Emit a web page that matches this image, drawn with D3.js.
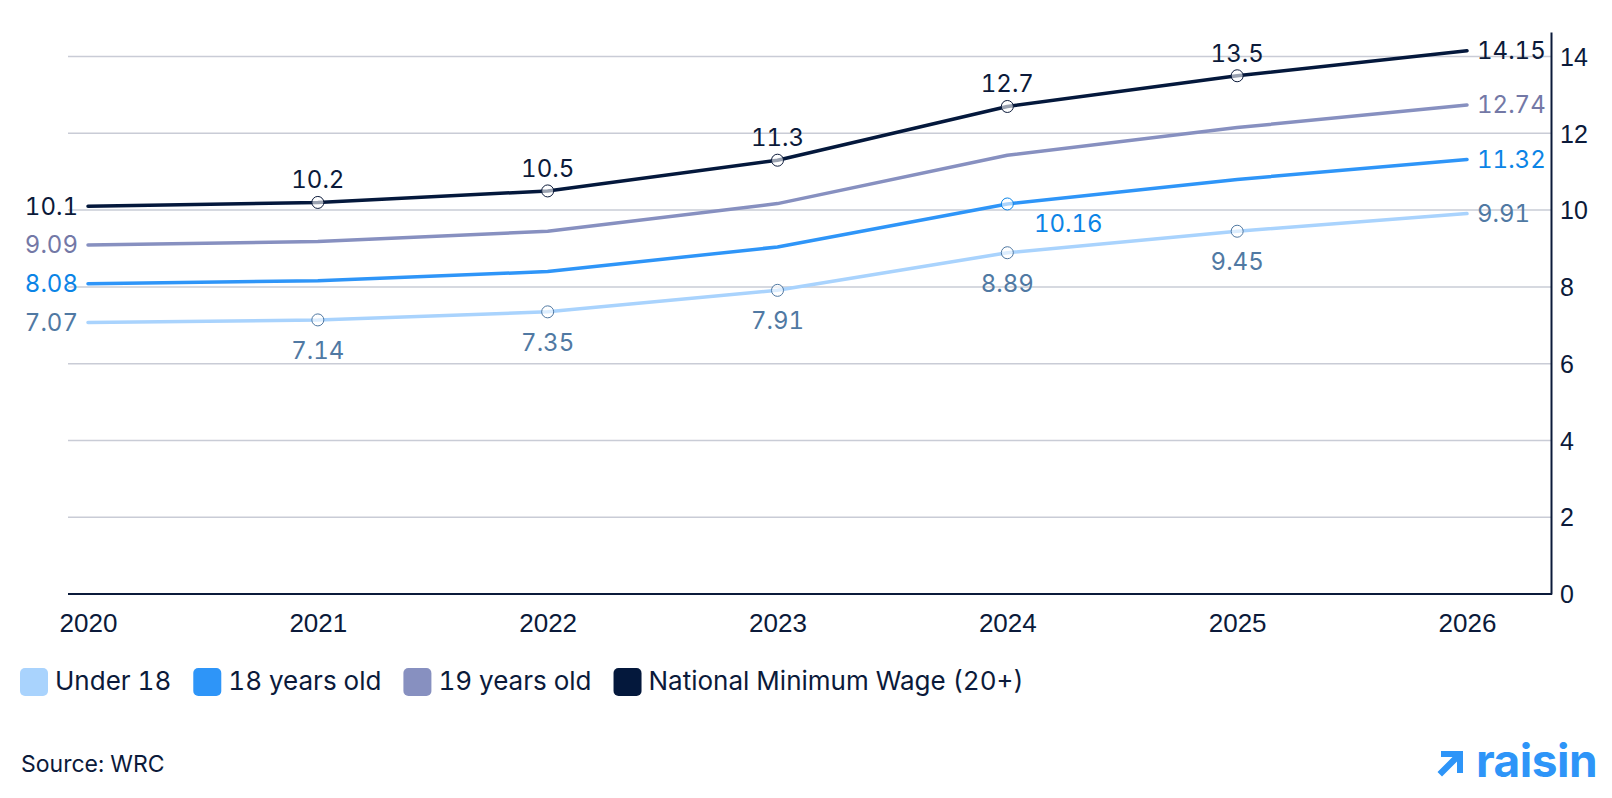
<!DOCTYPE html>
<html>
<head>
<meta charset="utf-8">
<script src="https://cdn.jsdelivr.net/npm/d3@7"></script>
<style>
  html, body { margin: 0; padding: 0; background: #fff; }
  svg { display: block; font-family: Inter, "Noto Sans", sans-serif; font-variant-numeric: tabular-nums; }
</style>
</head>
<body>
<svg id="chart" width="1612" height="798"></svg>
<script>
// data (EUR per hour)
const years = ['2020', '2021', '2022', '2023', '2024', '2025', '2026'];
const under18 = [7.07, 7.14, 7.35, 7.91, 8.89, 9.45, 9.91];
const age18 = [8.08, 8.16, 8.40, 9.04, 10.16, 10.80, 11.32];
const age19 = [9.09, 9.18, 9.45, 10.17, 11.43, 12.15, 12.74];
const nmw = [10.1, 10.2, 10.5, 11.3, 12.7, 13.5, 14.15];
const yTicks = [0, 2, 4, 6, 8, 10, 12, 14];
const seriesNames = ['Under 18', '18 years old', '19 years old', 'National Minimum Wage (20+)'];

// where each point's value label goes (null = no label)
const labelSpots = [
    ['left', 'below', 'below', 'below', 'below', 'below', 'right'],
    ['left', null, null, null, 'belowright', null, 'right'],
    ['left', null, null, null, null, null, 'right'],
    ['left', 'above', 'above', 'above', 'above', 'above', 'right']
];

const lineColors = ['#a9d3fd', '#2e95f8', '#8790c0', '#04183c'];
const textColors = ['#5079a3', '#0b84e6', '#7378a6', '#0b1a3a'];
const dark = '#0b1a3a';

const svg = d3.select('#chart');
const plotLeft = 68, plotRight = 1551, plotTop = 32, plotBottom = 594;

const x = d3.scalePoint().domain(years).range([88, 1467]);
const y = d3.scaleLinear().domain([0, 14.64]).range([plotBottom, plotTop]);

// gridlines
svg.append('g')
    .selectAll('line')
    .data(yTicks.filter(d => d > 0))
    .enter()
    .append('line')
    .attr('x1', plotLeft).attr('x2', plotRight)
    .attr('y1', d => y(d)).attr('y2', d => y(d))
    .attr('stroke', '#c9ccd6')
    .attr('stroke-width', 1.5);

// right value axis
const yAxis = svg.append('g')
    .attr('transform', 'translate(' + plotRight + ',0)')
    .call(d3.axisRight(y).tickValues(yTicks).tickSize(0).tickPadding(9));
yAxis.select('.domain').attr('stroke', dark).attr('stroke-width', 2);
yAxis.selectAll('text')
    .attr('fill', dark)
    .style('font-size', '25px')
    .attr('dy', '0.35em');

// bottom category axis
const xAxis = svg.append('g')
    .attr('transform', 'translate(0,' + plotBottom + ')')
    .call(d3.axisBottom(x).tickSize(0).tickPadding(20));
xAxis.select('.domain').remove();
xAxis.append('line')
    .attr('x1', plotLeft).attr('x2', plotRight + 1)
    .attr('stroke', dark).attr('stroke-width', 2);
xAxis.selectAll('text')
    .attr('fill', dark)
    .style('font-size', '26px');

// lines
const allSeries = [under18, age18, age19, nmw];
const line = d3.line()
    .x((d, i) => x(years[i]))
    .y(d => y(d));

svg.append('g')
    .selectAll('path')
    .data(allSeries)
    .enter()
    .append('path')
    .attr('d', d => line(d))
    .attr('fill', 'none')
    .attr('stroke', (d, i) => lineColors[i])
    .attr('stroke-width', 3.5)
    .attr('stroke-linejoin', 'round')
    .attr('stroke-linecap', 'round');

// markers + value labels
const points = [];
allSeries.forEach((vals, s) => {
    vals.forEach((v, i) => {
        if (labelSpots[s][i]) {
            points.push({ s: s, year: years[i], v: v, spot: labelSpots[s][i] });
        }
    });
});

svg.append('g')
    .selectAll('circle')
    .data(points.filter(p => p.spot !== 'left' && p.spot !== 'right'))
    .enter()
    .append('circle')
    .attr('cx', d => x(d.year))
    .attr('cy', d => y(d.v))
    .attr('r', 6)
    .attr('fill', '#fff')
    .attr('fill-opacity', 0.6)
    .attr('stroke', d => textColors[d.s])
    .attr('stroke-width', 1);

const fmt = v => String(+v.toFixed(2));

svg.append('g')
    .selectAll('text')
    .data(points)
    .enter()
    .append('text')
    .text(d => fmt(d.v))
    .attr('fill', d => textColors[d.s])
    .style('font-size', '24px')
    .attr('x', d => {
        const px = x(d.year);
        if (d.spot === 'left') return px - 10;
        if (d.spot === 'right') return px + 10;
        if (d.spot === 'belowright') return px + 61;
        return px;
    })
    .attr('y', d => {
        const py = y(d.v);
        if (d.spot === 'above') return py - 14;
        if (d.spot === 'below') return py + 39;
        if (d.spot === 'belowright') return py + 28;
        return py;
    })
    .attr('dy', d => (d.spot === 'left' || d.spot === 'right') ? '0.35em' : 0)
    .attr('text-anchor', d => d.spot === 'left' ? 'end' : d.spot === 'right' ? 'start' : 'middle');

// legend
const legend = svg.append('g').attr('transform', 'translate(20,668)');
let lx = 0;
seriesNames.forEach((name, i) => {
    const item = legend.append('g').attr('transform', 'translate(' + lx + ',0)');
    item.append('rect')
        .attr('width', 28).attr('height', 28)
        .attr('rx', 5)
        .attr('fill', lineColors[i]);
    const t = item.append('text')
        .attr('x', 35).attr('y', 22)
        .attr('fill', dark)
        .style('font-size', '26px')
        .text(name);
    lx += 35 + t.node().getComputedTextLength() + 22;
});

// source
svg.append('text')
    .attr('x', 21).attr('y', 772)
    .attr('fill', dark)
    .style('font-size', '23px')
    .text('Source: WRC');

// raisin logo
const logo = svg.append('g').attr('transform', 'translate(1437,751)');
logo.append('path')
    .attr('d', 'M4,0 H26 V22 H20 V10.5 L5,25.5 L0.5,21 L15.5,6 H4 Z')
    .attr('fill', '#2e95f8');
logo.append('text')
    .attr('x', 39).attr('y', 26)
    .attr('fill', '#2e95f8')
    .style('font-size', '46px')
    .style('font-weight', 700)
    .style('letter-spacing', '-0.5px')
    .text('raisin');
</script>
</body>
</html>
